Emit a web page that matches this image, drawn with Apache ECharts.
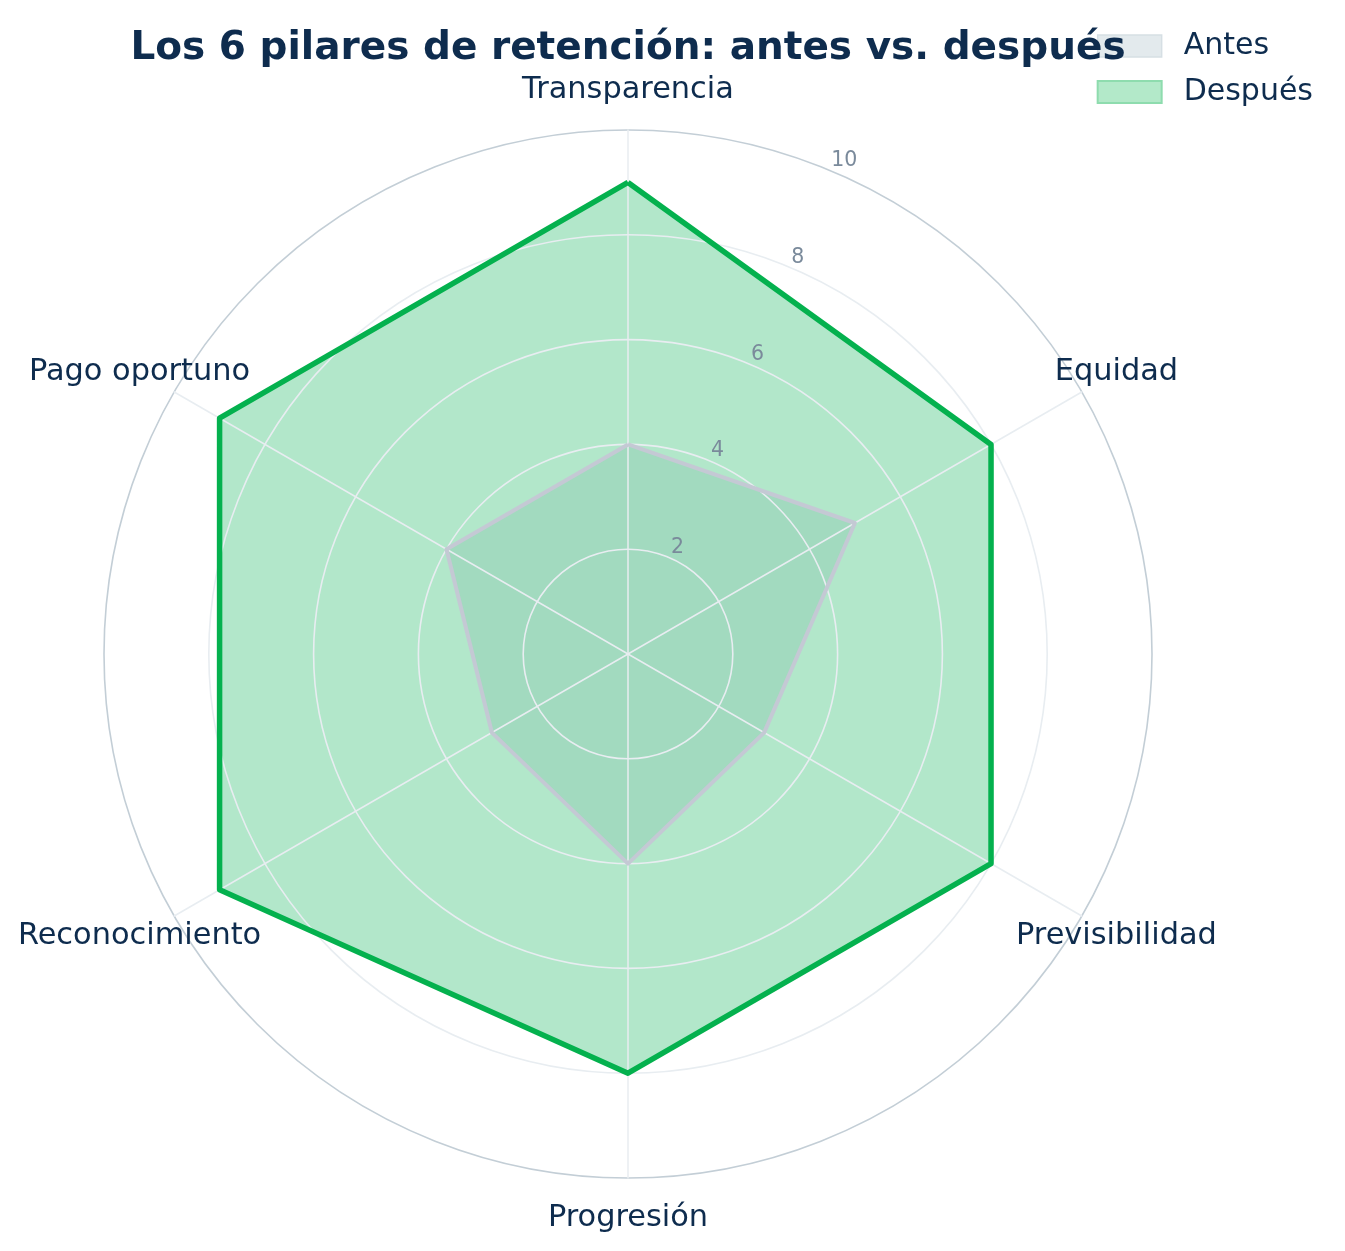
<!DOCTYPE html>
<html>
<head>
<meta charset="utf-8">
<script src="https://cdn.jsdelivr.net/npm/echarts@6/dist/echarts.min.js"></script>
<style>
  html, body { margin: 0; padding: 0; background: #fff; }
  #radar { width: 1345px; height: 1251px; }
</style>
</head>
<body>
<div id="radar"></div>
<script>
// datos del radar, en el orden de la figura (sentido horario desde arriba)
var categorias = ['Transparencia', 'Equidad', 'Previsibilidad', 'Progresión', 'Reconocimiento', 'Pago oportuno'];
var antes = [4, 5, 3, 4, 3, 4];
var despues = [9, 8, 8, 8, 9, 9];
var ticksRadio = [0, 2, 4, 6, 8, 10];

var navy = '#0e2c4e';
var fuente = 'DejaVu Sans';

// echarts reparte los ejes del radar en sentido antihorario -> invertir el resto
function horario(arr) {
  return [arr[0]].concat(arr.slice(1).reverse());
}

var myChart = echarts.init(document.getElementById('radar'));

var option = {
  backgroundColor: '#fff',
  animation: false,
  title: {
    text: 'Los 6 pilares de retención: antes vs. después',
    left: 628,
    top: 29,
    textAlign: 'center',
    padding: 0,
    textStyle: { fontFamily: fuente, fontSize: 39, fontWeight: 'bold', color: navy }
  },
  legend: {
    orient: 'vertical',
    right: 27,
    top: 26,
    icon: 'rect',
    itemWidth: 64,
    itemHeight: 22,
    itemGap: 16,
    textStyle: { fontFamily: fuente, fontSize: 30, color: navy, padding: [0, 0, 0, 17] },
    data: [
      { name: 'Antes', itemStyle: { color: '#e3eaed', borderColor: '#d6dfe4', borderWidth: 1.5 } },
      { name: 'Después', itemStyle: { color: '#b3e9c9', borderColor: '#8edcae', borderWidth: 2 } }
    ]
  },
  radar: {
    center: [628, 654],
    radius: 524,
    startAngle: 90,
    shape: 'circle',
    splitNumber: 5,
    z: 3,
    axisNameGap: 40,
    axisName: { fontFamily: fuente, fontSize: 30.4, color: navy, align: 'center', verticalAlign: 'middle' },
    indicator: horario(categorias).map(function (c) { return { name: c, min: 0, max: 10 }; }),
    axisLine: { lineStyle: { color: '#e8edf1', width: 1.5 } },
    axisTick: { show: false },
    axisLabel: { show: false },
    splitArea: { show: false },
    splitLine: {
      lineStyle: {
        color: ticksRadio.map(function (t) { return t === 10 ? '#c3ced6' : '#e8edf1'; }),
        width: 1.6
      }
    }
  },
  // segundo sistema polar solo para las etiquetas radiales a 22.5 grados
  polar: { center: [628, 654], radius: 524 },
  angleAxis: { type: 'value', min: 0, max: 360, startAngle: 67.5, show: false },
  radiusAxis: {
    type: 'value', min: 0, max: 10, interval: 2, z: 6,
    axisLine: { show: false }, axisTick: { show: false }, splitLine: { show: false },
    axisLabel: {
      showMinLabel: false,
      align: 'left', verticalAlign: 'bottom', margin: -3,
      fontFamily: fuente, fontSize: 20.5, color: '#7a8a9b'
    }
  },
  series: [
    {
      // rellenos, bajo la rejilla
      type: 'radar',
      z: 1,
      symbol: 'none',
      data: [
        { name: 'Antes', value: horario(antes), lineStyle: { width: 0, opacity: 0 },
          areaStyle: { color: '#b4c2cc', opacity: 0.3 } },
        { name: 'Después', value: horario(despues), lineStyle: { width: 0, opacity: 0 },
          areaStyle: { color: '#00b050', opacity: 0.3 } }
      ]
    },
    {
      // contornos, sobre la rejilla
      type: 'radar',
      z: 4,
      symbol: 'none',
      data: [
        { name: 'Antes', value: horario(antes), lineStyle: { color: '#c4c9d4', width: 4 } },
        { name: 'Después', value: horario(despues), lineStyle: { color: '#04b14e', width: 5.5 } }
      ]
    }
  ]
};

myChart.setOption(option);
</script>
</body>
</html>
